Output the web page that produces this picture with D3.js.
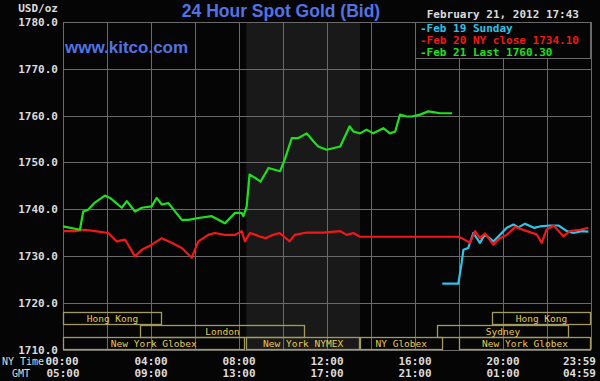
<!DOCTYPE html>
<html><head><meta charset="utf-8">
<script src="https://cdn.jsdelivr.net/npm/d3@7"></script>
<style>
html,body{margin:0;padding:0;background:#050505;}
svg{display:block;}
</style></head>
<body>
<script>
// ---- data ----
const title = "24 Hour Spot Gold (Bid)";
const stamp = "February 21, 2012 17:43";
const yTicks = [1710, 1720, 1730, 1740, 1750, 1760, 1770, 1780];
const xGridHours = [0, 2, 4, 6, 8, 10, 12, 14, 16, 18, 20, 22, 24];
const xLabelHours = [0, 4, 8, 12, 16, 20, 24];
const nyLabels = ["00:00", "04:00", "08:00", "12:00", "16:00", "20:00", "23:59"];
const gmtLabels = ["05:00", "09:00", "13:00", "17:00", "21:00", "01:00", "04:59"];
const pitSession = [8.33, 13.5];
const legendLabels = ["Feb 19 Sunday", "Feb 20 NY close 1734.10", "Feb 21 Last 1760.30"];

const sessionNames = ["Hong Kong", "London", "New York Globex", "New York NYMEX", "NY Globex", "New York Globex", "Sydney", "Hong Kong"];
const sessionRows  = [0, 1, 2, 2, 2, 2, 1, 0];
const sessionStart = [0, 3.5, 0, 8.33, 13.5, 18, 17, 19.5];
const sessionEnd   = [4.5, 11, 8.25, 13.5, 17.25, 24, 23, 24];

// time in NY hours, price in USD/oz
const feb21Hours = [0, 0.77, 0.92, 1.15, 1.45, 1.9, 2.14, 2.67, 2.9, 3.27, 3.58, 4.03, 4.26, 4.49, 4.79, 5.4, 5.7, 6.15, 6.76, 7.36, 7.82, 8.12, 8.2, 8.35, 8.48, 8.76, 8.98, 9.34, 9.87, 10.1, 10.4, 10.7, 11.08, 11.38, 11.6, 11.98, 12.6, 13.03, 13.2, 13.5, 13.8, 14.1, 14.56, 14.86, 15.1, 15.32, 15.62, 15.85, 16.23, 16.6, 16.9, 17.13, 17.68];
const feb21Price = [1736.3, 1735.6, 1739.5, 1739.9, 1741.4, 1742.9, 1742.4, 1740.3, 1741.7, 1739.5, 1740.3, 1740.6, 1742.4, 1741.0, 1741.3, 1737.7, 1737.7, 1738.1, 1738.5, 1737.0, 1739.2, 1739.2, 1738.5, 1740.6, 1747.4, 1746.6, 1745.9, 1748.8, 1748.1, 1750.9, 1755.2, 1755.2, 1756.2, 1754.5, 1753.4, 1752.7, 1753.4, 1757.7, 1756.6, 1756.2, 1757.0, 1756.2, 1757.3, 1756.2, 1756.6, 1760.2, 1759.8, 1759.8, 1760.2, 1760.9, 1760.7, 1760.5, 1760.5];

const feb20Hours = [0, 0.55, 1.0, 1.45, 2.06, 2.44, 2.82, 3.27, 3.58, 4.03, 4.49, 4.94, 5.4, 5.85, 6.15, 6.6, 6.9, 7.36, 7.82, 8.12, 8.27, 8.5, 8.76, 8.9, 9.2, 9.55, 9.85, 10.3, 10.53, 11.08, 11.83, 12.6, 12.9, 13.2, 13.5, 15.0, 17.97, 18.13, 18.5, 18.73, 18.95, 19.18, 19.56, 19.86, 20.17, 20.55, 21.08, 21.53, 21.76, 21.98, 22.3, 22.74, 23.04, 23.5, 23.88];
const feb20Price = [1735.3, 1735.3, 1735.6, 1735.3, 1734.9, 1733.1, 1733.5, 1729.9, 1731.3, 1732.4, 1733.8, 1732.8, 1731.7, 1729.6, 1733.1, 1734.5, 1734.9, 1734.5, 1734.5, 1735.3, 1733.1, 1734.9, 1734.5, 1734.2, 1733.8, 1734.5, 1734.9, 1733.1, 1734.5, 1735.0, 1735.0, 1735.3, 1734.5, 1734.9, 1734.1, 1734.1, 1734.1, 1733.8, 1732.8, 1735.3, 1733.8, 1734.8, 1732.4, 1733.8, 1734.5, 1736.2, 1735.3, 1734.6, 1732.8, 1735.6, 1736.5, 1734.2, 1735.3, 1735.6, 1736.0];

const feb19Hours = [17.24, 17.97, 18.12, 18.2, 18.42, 18.65, 18.95, 19.18, 19.56, 19.86, 20.17, 20.47, 20.7, 21.0, 21.4, 21.68, 22.14, 22.52, 22.9, 23.2, 23.58, 23.88];
const feb19Price = [1724.1, 1724.1, 1728.5, 1731.3, 1731.7, 1734.9, 1732.8, 1734.6, 1733.1, 1734.5, 1736.0, 1736.7, 1736.1, 1736.9, 1736.0, 1736.3, 1736.5, 1736.5, 1735.3, 1734.9, 1735.3, 1735.2];

// ---- layout ----
const W = 600, H = 381;
const plotL = 63, plotR = 591, plotT = 22, plotB = 349.5;
const rowTop = 312, rowH = 12.5;
const colors = {bg:"#050505", pit:"#191919", grid:"#6a6a6a", axis:"#dcdcdc", title:"#5273e4",
  sess:"#a39a62", sessText:"#e9cc55", cyan:"#2fc3e6", red:"#f01818", green:"#1fe01f"};
const mono = "'DejaVu Sans Mono', 'Liberation Mono', monospace";

const x = d3.scaleLinear().domain([0, 24]).range([plotL, plotR]);
const y = d3.scaleLinear().domain([1710, 1780]).range([plotB, plotT]);

const svg = d3.select("body").append("svg").attr("width", W).attr("height", H);
svg.append("rect").attr("width", W).attr("height", H).attr("fill", colors.bg);

// pit session shading
svg.append("rect").attr("x", x(pitSession[0])).attr("y", plotT)
  .attr("width", x(pitSession[1]) - x(pitSession[0])).attr("height", plotB - plotT)
  .attr("fill", colors.pit);

// grid
svg.append("g").selectAll("line").data(yTicks).join("line")
  .attr("x1", plotL).attr("x2", plotR).attr("y1", d => Math.round(y(d)) + 0.5).attr("y2", d => Math.round(y(d)) + 0.5)
  .attr("stroke", colors.grid).attr("stroke-width", 1);
svg.append("g").selectAll("line").data(xGridHours).join("line")
  .attr("x1", d => Math.round(x(d)) + 0.5).attr("x2", d => Math.round(x(d)) + 0.5).attr("y1", plotT).attr("y2", plotB)
  .attr("stroke", colors.grid).attr("stroke-width", 1);

// y labels
svg.append("g").selectAll("text").data(yTicks).join("text")
  .attr("x", 58).attr("y", d => y(d) + 4).attr("text-anchor", "end")
  .attr("font-family", mono).attr("font-size", 11).attr("font-weight", "bold")
  .attr("fill", colors.axis).text(d => d.toFixed(1));
svg.append("text").attr("x", 58).attr("y", 12).attr("text-anchor", "end")
  .attr("font-family", mono).attr("font-size", 11).attr("font-weight", "bold")
  .attr("fill", colors.axis).text("USD/oz");

// x labels
const xl = svg.append("g").attr("font-family", mono).attr("font-size", 11).attr("font-weight", "bold").attr("fill", colors.axis);
xl.selectAll("text.ny").data(xLabelHours).join("text").attr("class", "ny")
  .attr("x", (d, i) => i === xLabelHours.length - 1 ? 596 : (i === 0 ? x(d) - 1 : x(d)))
  .attr("y", 365).attr("text-anchor", (d, i) => i === xLabelHours.length - 1 ? "end" : "middle")
  .text((d, i) => nyLabels[i]);
xl.selectAll("text.gmt").data(xLabelHours).join("text").attr("class", "gmt")
  .attr("x", (d, i) => i === xLabelHours.length - 1 ? 596 : x(d))
  .attr("y", 377).attr("text-anchor", (d, i) => i === xLabelHours.length - 1 ? "end" : "middle")
  .text((d, i) => gmtLabels[i]);
svg.append("text").attr("x", 2).attr("y", 365).attr("font-family", mono).attr("font-size", 10)
  .attr("textLength", 42).attr("fill", colors.axis).text("NY Time");
svg.append("text").attr("x", 12).attr("y", 377).attr("font-family", mono).attr("font-size", 10)
  .attr("fill", colors.axis).text("GMT");

// sessions
const sess = svg.append("g");
sessionNames.forEach((name, i) => {
  const x0 = x(sessionStart[i]), x1 = x(sessionEnd[i]);
  const yy = rowTop + sessionRows[i] * rowH;
  sess.append("rect").attr("x", Math.round(x0) + 0.5).attr("y", Math.round(yy) + 0.5)
    .attr("width", Math.round(x1 - x0) - 1).attr("height", rowH - 0.5)
    .attr("fill", "none").attr("stroke", colors.sess).attr("stroke-width", 1.3);
  sess.append("text").attr("x", (x0 + x1) / 2).attr("y", yy + 10)
    .attr("text-anchor", "middle").attr("font-family", mono).attr("font-size", 9.5)
    .attr("fill", colors.sessText).text(name);
});

// series lines
const line = d3.line().x(d => x(d[0])).y(d => y(d[1]));
const series = [
  {h: feb19Hours, p: feb19Price, c: colors.cyan},
  {h: feb20Hours, p: feb20Price, c: colors.red},
  {h: feb21Hours, p: feb21Price, c: colors.green}
];
series.forEach(s => {
  svg.append("path").datum(s.h.map((h, i) => [h, s.p[i]]))
    .attr("d", line).attr("fill", "none").attr("stroke", s.c).attr("stroke-width", 2.2)
    .attr("stroke-linejoin", "round");
});

// legend
svg.append("rect").attr("x", 415.5).attr("y", 22.5).attr("width", 175).attr("height", 36)
  .attr("fill", colors.bg).attr("stroke", colors.grid);
const legColors = [colors.cyan, colors.red, colors.green];
svg.append("g").selectAll("text").data(legendLabels).join("text")
  .attr("x", 420).attr("y", (d, i) => 32 + i * 12)
  .attr("font-family", mono).attr("font-size", 11).attr("font-weight", "bold")
  .attr("fill", (d, i) => legColors[i]).text(d => "-" + d);

// header texts
svg.append("text").attr("x", 281).attr("y", 17).attr("text-anchor", "middle")
  .attr("font-family", "'Liberation Sans', Arial, sans-serif").attr("font-weight", "bold").attr("font-size", 17.5)
  .attr("fill", colors.title).text(title);
svg.append("text").attr("x", 65).attr("y", 53)
  .attr("font-family", "'Liberation Sans', Arial, sans-serif").attr("font-weight", "bold").attr("font-size", 17)
  .attr("fill", colors.title).text("www.kitco.com");
svg.append("text").attr("x", 579).attr("y", 18).attr("text-anchor", "end")
  .attr("font-family", mono).attr("font-size", 11).attr("font-weight", "bold")
  .attr("fill", colors.axis).text(stamp);
</script>
</body></html>
